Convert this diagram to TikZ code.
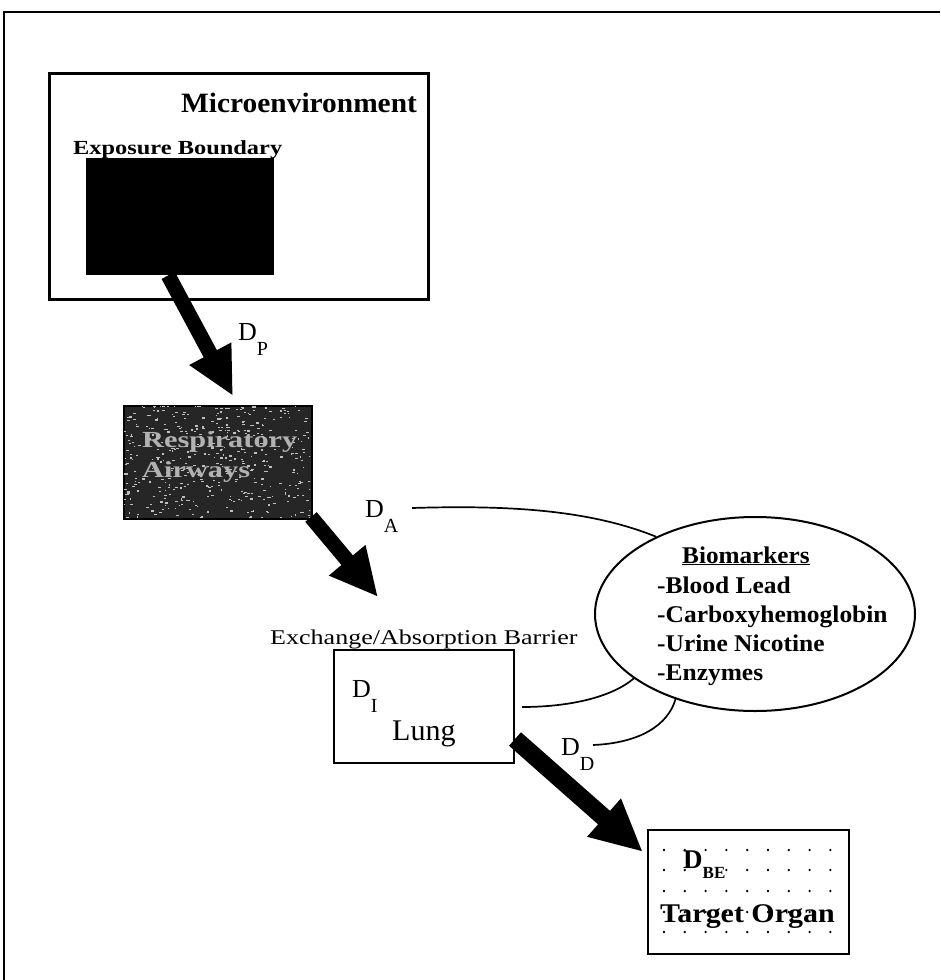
\documentclass[tikz,border=0pt]{standalone}
\usepackage{fontspec}
\setmainfont{Liberation Serif}
\usetikzlibrary{arrows.meta,shapes.geometric,calc}
\newcommand\fs[1]{\fontsize{#1}{#1}\selectfont}
\newcommand\xs[2]{\scalebox{#1}[1]{#2}}
\newcommand\Dlab[1]{\fs{26}D\raisebox{-15pt}{\fs{20}#1}}
\begin{document}
\begin{tikzpicture}[x=1pt,y=-1pt,
  boxline/.style={draw=black, line width=2.2pt},
  lbl/.style={inner sep=0pt, anchor=base west},
  bigarrow/.style={line width=15pt, -{Triangle[length=48pt,width=44pt]}},
  hugearrow/.style={line width=18pt, -{Triangle[length=52pt,width=47pt]}},
  thinline/.style={line width=1.7pt},
  dotfill/.style={fill=black}]
\useasboundingbox (0,0) rectangle (940,980);
\fill[white] (0,0) rectangle (940,980);
% outer frame (only top and left edges visible)
\coordinate (fbl) at (4,980);
\coordinate (ftl) at (4,12);
\coordinate (ftr) at (940,12);
\draw[line width=2.5pt] (fbl) -- (ftl) -- (ftr);

% microenvironment
\node[boxline, line width=3pt, minimum width=379pt, minimum height=226pt, anchor=north west] (micro) at (48,72) {};
\node[lbl, font=\bfseries\fs{28}] (mtitle) at (181,112) {\xs{1.05}{Microenvironment}};
\node[lbl, font=\bfseries\fs{20}] (expb) at (73,154) {\xs{1.22}{Exposure Boundary}};
\node[fill=black, minimum width=188pt, minimum height=117pt, anchor=north west, inner sep=0pt] (blk) at (86,158) {};

% respiratory airways
\node[draw=black, fill=black!85, line width=2pt, minimum width=188pt, minimum height=113pt, anchor=north west] (resp) at (123,405) {};
\begin{scope}
  \clip (124,406) rectangle (310,517);
  \pgfmathsetseed{11}
  \foreach \i in {1,...,420}{
    \pgfmathsetmacro\rx{123+188*rnd}
    \pgfmathsetmacro\ry{405+113*rnd}
    \pgfmathsetmacro\rw{1+2.5*rnd}
    \fill[black!25] (\rx,\ry) rectangle ++(\rw,1.2);
  }
\end{scope}
\node[lbl, font=\bfseries\fs{23}, text=black!30] (resp1) at (142,447) {\xs{1.32}{Respiratory}};
\node[lbl, font=\bfseries\fs{23}, text=black!30] (resp2) at (142,477) {\xs{1.32}{Airways}};

% lung
\node[lbl, font=\fs{21}] (exch) at (270,644) {\xs{1.24}{Exchange/Absorption Barrier}};
\node[boxline, line width=2pt, minimum width=180pt, minimum height=113pt, anchor=north west] (lung) at (333,649) {};
\node[lbl] (di) at (352,697) {\Dlab{I}};
\node[lbl, font=\fs{30}] (lungtxt) at (392,740) {Lung};

% biomarkers
\node[ellipse, draw=black, line width=2pt, minimum width=320pt, minimum height=194pt, inner sep=0pt] (bio) at (755,614) {};
\node[lbl, font=\bfseries\fs{24}] (biot) at (682,563) {\xs{1.05}{\underline{Biomarkers}}};
\node[lbl, font=\bfseries\fs{24}] (b1) at (657,593) {\xs{1.06}{-Blood Lead}};
\node[lbl, font=\bfseries\fs{24}] (b2) at (657,622) {\xs{1.06}{-Carboxyhemoglobin}};
\node[lbl, font=\bfseries\fs{24}] (b3) at (657,651) {\xs{1.06}{-Urine Nicotine}};
\node[lbl, font=\bfseries\fs{24}] (b4) at (657,680) {\xs{1.06}{-Enzymes}};

% target organ
\node[boxline, line width=2pt, minimum width=201pt, minimum height=124pt, anchor=north west] (target) at (647,829) {};
\foreach \yy in {850,870,891,912,932}{
  \foreach \k in {0,...,8}{
    \fill[dotfill] (664+20.8*\k,\yy) circle (1.3pt);
  }
}
\node[lbl, font=\bfseries] (dbe) at (683,868) {\fs{27}D\raisebox{-10pt}{\fs{17}BE}};
\node[lbl, font=\bfseries\fs{27}] (tgt) at (660,922) {\xs{1.11}{Target Organ}};

% D labels
\node[lbl] (dp) at (238,340) {\Dlab{P}};
\node[lbl] (da) at (365,517) {\Dlab{A}};
\node[lbl] (dd) at (561,755) {\Dlab{D}};

% thick arrows
\coordinate (a1s) at ($(blk.south)+(-12,0)$);
\coordinate (a1e) at (233,396);
\draw[bigarrow] (a1s) -- (a1e);
\coordinate (a2s) at ($(resp.south east)+(-2,-3)$);
\coordinate (a2e) at (378,597);
\draw[bigarrow] (a2s) -- (a2e);
\coordinate (a3s) at ($(lung.south east)+(0,-25)$);
\coordinate (a3e) at (643,852);
\draw[hugearrow] (a3s) -- (a3e);

% thin connectors to biomarkers
\coordinate (cA) at (412,508);
\draw[thinline] (cA) .. controls (510,505) and (590,510) .. (bio.142);
\coordinate (cL) at (522,707);
\draw[thinline] (cL) .. controls (570,707) and (612,697) .. (bio.208);
\coordinate (cD) at (593,745);
\draw[thinline] (cD) .. controls (640,743) and (668,725) .. (bio.227);
\end{tikzpicture}
\end{document}
